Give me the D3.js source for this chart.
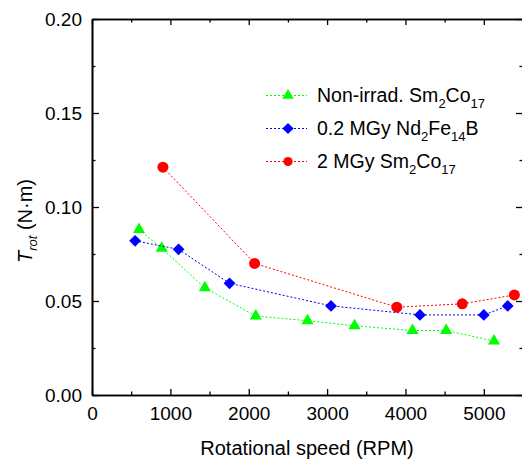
<!DOCTYPE html>
<html>
<head>
<meta charset="utf-8">
<script src="https://cdn.jsdelivr.net/npm/d3@7"></script>
<style>
  body { margin: 0; background: #fff; }
  text { font-family: "Liberation Sans", Arial, sans-serif; fill: #000; }
</style>
</head>
<body>
<div id="chart"></div>
<script>
// data
var nonIrradSpeed = [600, 890, 1440, 2090, 2750, 3350, 4090, 4520, 5130];
var nonIrradTorque = [0.088, 0.078, 0.057, 0.042, 0.0395, 0.0368, 0.0343, 0.0343, 0.0287];

var ndfebSpeed = [550, 1105, 1755, 3050, 4185, 5000, 5305];
var ndfebTorque = [0.082, 0.0775, 0.0594, 0.0474, 0.0426, 0.0426, 0.0474];

var mgy2Speed = [905, 2075, 3890, 4725, 5390];
var mgy2Torque = [0.1212, 0.0700, 0.0467, 0.0485, 0.0532];

var xTicks = [0, 1000, 2000, 3000, 4000, 5000];
var yTicks = [0.00, 0.05, 0.10, 0.15, 0.20];

var svgWidth = 522;
var svgHeight = 459;

var margin = {top: 19, right: -1, bottom: 64, left: 92};
var width = svgWidth - margin.left - margin.right;
var height = svgHeight - margin.top - margin.bottom;

var svg = d3.select("#chart")
  .append("svg")
  .attr("width", svgWidth)
  .attr("height", svgHeight);

var chartGroup = svg.append("g")
  .attr("transform", `translate(${margin.left}, ${margin.top})`);

var xScale = d3.scaleLinear().domain([0, 5500]).range([0, width]);
var yScale = d3.scaleLinear().domain([0, 0.20]).range([height, 0]);

// minor ticks
var xMinor = d3.range(500, 5500, 1000);
var yMinor = [0.025, 0.075, 0.125, 0.175];

function styleAxis(g) {
  g.selectAll("path").attr("stroke", "#000").attr("stroke-width", 1.6);
  g.selectAll("line").attr("stroke", "#000").attr("stroke-width", 1.3);
  g.selectAll("text").attr("font-family", "Liberation Sans, Arial, sans-serif")
    .attr("font-size", 19).attr("fill", "#000");
}

// bottom
chartGroup.append("g")
  .attr("transform", `translate(0, ${height})`)
  .call(d3.axisBottom(xScale).tickValues(xTicks).tickFormat(d3.format("d"))
    .tickSizeInner(-6).tickSizeOuter(0).tickPadding(12))
  .call(styleAxis);
chartGroup.append("g")
  .attr("transform", `translate(0, ${height})`)
  .call(d3.axisBottom(xScale).tickValues(xMinor).tickFormat("")
    .tickSizeInner(-3.5).tickSizeOuter(0))
  .call(styleAxis);

// top
chartGroup.append("g")
  .call(d3.axisTop(xScale).tickValues(xTicks).tickFormat("")
    .tickSizeInner(-6).tickSizeOuter(0))
  .call(styleAxis);
chartGroup.append("g")
  .call(d3.axisTop(xScale).tickValues(xMinor).tickFormat("")
    .tickSizeInner(-3.5).tickSizeOuter(0))
  .call(styleAxis);

// left
chartGroup.append("g")
  .call(d3.axisLeft(yScale).tickValues(yTicks).tickFormat(d3.format(".2f"))
    .tickSizeInner(-7).tickSizeOuter(0).tickPadding(10))
  .call(styleAxis);
chartGroup.append("g")
  .call(d3.axisLeft(yScale).tickValues(yMinor).tickFormat("")
    .tickSizeInner(-3.5).tickSizeOuter(0))
  .call(styleAxis);

// right
chartGroup.append("g")
  .attr("transform", `translate(${width}, 0)`)
  .call(d3.axisRight(yScale).tickValues(yTicks).tickFormat("")
    .tickSizeInner(-7).tickSizeOuter(0))
  .call(styleAxis);
chartGroup.append("g")
  .attr("transform", `translate(${width}, 0)`)
  .call(d3.axisRight(yScale).tickValues(yMinor).tickFormat("")
    .tickSizeInner(-3.5).tickSizeOuter(0))
  .call(styleAxis);

var series = [
  {name: "nonirrad", speed: nonIrradSpeed, torque: nonIrradTorque, color: "#00ff00",
   symbol: d3.symbolTriangle, size: 64, legendSize: 56, rotate: 0},
  {name: "ndfeb", speed: ndfebSpeed, torque: ndfebTorque, color: "#0000ff",
   symbol: d3.symbolSquare, size: 70, legendSize: 62, rotate: 45},
  {name: "mgy2", speed: mgy2Speed, torque: mgy2Torque, color: "#ff0000",
   symbol: d3.symbolCircle, size: 95, legendSize: 66, rotate: 0}
];

var line = d3.line()
  .x(d => xScale(d[0]))
  .y(d => yScale(d[1]));

series.forEach(function(s) {
  var pts = s.speed.map((v, i) => [v, s.torque[i]]);
  chartGroup.append("path")
    .datum(pts)
    .attr("d", line)
    .attr("fill", "none")
    .attr("stroke", s.color)
    .attr("stroke-width", 1)
    .attr("stroke-dasharray", "2,2");
  chartGroup.selectAll(".pt-" + s.name)
    .data(pts)
    .enter()
    .append("path")
    .attr("class", "pt-" + s.name)
    .attr("d", d3.symbol().type(s.symbol).size(s.size))
    .attr("transform", d => `translate(${xScale(d[0])}, ${yScale(d[1])}) rotate(${s.rotate})`)
    .attr("fill", s.color);
});

// legend
var legendItems = [
  {parts: [["Non-irrad. Sm", 0], ["2", 1], ["Co", 0], ["17", 1]]},
  {parts: [["0.2 MGy Nd", 0], ["2", 1], ["Fe", 0], ["14", 1], ["B", 0]]},
  {parts: [["2 MGy Sm", 0], ["2", 1], ["Co", 0], ["17", 1]]}
];
var legend = svg.append("g");
legendItems.forEach(function(item, i) {
  var s = series[i];
  var by = 102 + i * 33;
  var my = by - 6.5;
  legend.append("line")
    .attr("x1", 266).attr("x2", 307).attr("y1", my).attr("y2", my)
    .attr("stroke", s.color).attr("stroke-width", 1).attr("stroke-dasharray", "2,2");
  legend.append("path")
    .attr("d", d3.symbol().type(s.symbol).size(s.legendSize))
    .attr("transform", `translate(288, ${my}) rotate(${s.rotate})`)
    .attr("fill", s.color);
  var t = legend.append("text").attr("x", 317).attr("y", by).attr("font-size", 19.5);
  var shifted = false;
  item.parts.forEach(function(p) {
    var dy = 0;
    if (p[1] && !shifted) { dy = 6; shifted = true; }
    else if (!p[1] && shifted) { dy = -6; shifted = false; }
    t.append("tspan")
      .attr("font-size", p[1] ? 13 : 19.5)
      .attr("dy", dy)
      .text(p[0]);
  });
});

// axis titles
svg.append("text")
  .attr("x", margin.left + xScale(2750) - 0.5)
  .attr("y", 455)
  .attr("text-anchor", "middle")
  .attr("font-size", 20)
  .text("Rotational speed (RPM)");

var yTitle = svg.append("text")
  .attr("transform", "translate(32, 221) rotate(-90)")
  .attr("text-anchor", "middle")
  .attr("font-size", 20);
yTitle.append("tspan").attr("font-style", "italic").text("T");
yTitle.append("tspan").attr("font-style", "italic").attr("font-size", 13).attr("dy", 5).text("rot");
yTitle.append("tspan").attr("dy", -5).text(" (N\u00b7m)");
</script>
</body>
</html>
